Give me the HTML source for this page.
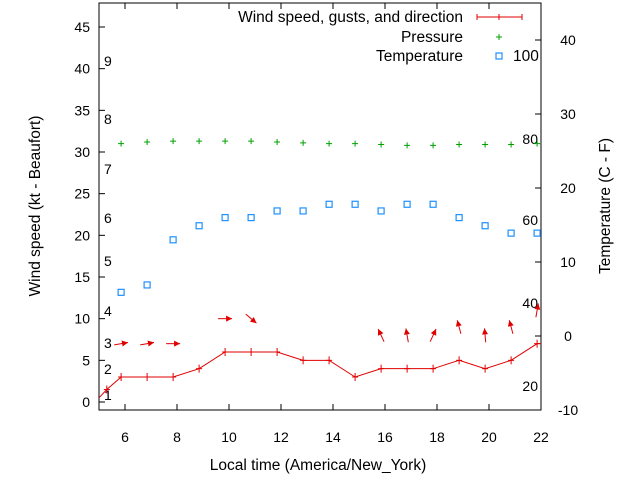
<!DOCTYPE html>
<html><head><meta charset="utf-8"><style>
body{margin:0;background:#fff}
svg{font-family:"Liberation Sans",sans-serif;font-size:14px}
.lg{font-size:15.5px}
</style></head><body>
<svg id="c" width="640" height="480" xmlns="http://www.w3.org/2000/svg"></svg>
<script>
const hours=[5.0,5.3,5.85,6.85,7.85,8.85,9.85,10.85,11.85,12.85,13.85,14.85,15.85,16.85,17.85,18.85,19.85,20.85,21.85,22];
const windSpeed=[0.5,1.5,3,3,3,4,6,6,6,5,5,3,4,4,4,5,4,5,7,7];
const windTicks=[false,true,true,true,true,true,true,true,true,true,true,true,true,true,true,true,true,true,true,false];
const pHours=[5.85,6.85,7.85,8.85,9.85,10.85,11.85,12.85,13.85,14.85,15.85,16.85,17.85,18.85,19.85,20.85,21.85];
const pressure=[31.0,31.2,31.3,31.3,31.3,31.3,31.2,31.1,31.0,31.0,30.9,30.8,30.8,30.9,30.9,30.9,31.0];
const temperature=[5.9,6.9,13.0,14.9,16.0,16.0,16.9,16.9,17.8,17.8,16.9,17.8,17.8,16.0,14.9,13.9,13.9];
const arrowHours=[5.85,6.85,7.85,9.85,10.85,15.85,16.85,17.85,18.85,19.85,20.85,21.85];
const arrowSpeed=[7,7,7,10,10,8,8,8,9,8,9,11];
const arrowDir=[260,260,270,270,310,155,170,205,165,175,165,190];
const xTicks=[6,8,10,12,14,16,18,20,22];
const yTicks=[0,5,10,15,20,25,30,35,40,45];
const y2Ticks=[-10,0,10,20,30,40];
const beaufort=[[1,395],[2,369],[3,343],[4,311],[5,261],[6,218],[7,169],[8,119],[9,61]];
const fahr=[[20,386],[40,303],[60,220],[80,139]];
const L=99,R=541,T=3,B=410;
const X=h=>L+(h-5)*26;
const Y=v=>402-v*375/45;
const Y2=v=>336-v*7.4;
const svg=document.getElementById('c');
const NS='http://www.w3.org/2000/svg';
function mk(tag,attrs,parent){const e=document.createElementNS(NS,tag);for(const k in attrs)e.setAttribute(k,attrs[k]);(parent||svg).appendChild(e);return e;}
function txt(s,x,y,anchor,name,rot,cls){const t=mk('text',{x:x,y:y,'text-anchor':anchor||'middle'});if(rot)t.setAttribute('transform',`rotate(-90 ${x} ${y})`);if(cls)t.setAttribute('class',cls);t.textContent=s;


return t;}
const defs=mk('defs',{});const cp=mk('clipPath',{id:'pc'},defs);mk('rect',{x:L,y:T,width:R-L,height:B-T},cp);
const box=mk('rect',{x:L,y:T,width:R-L,height:B-T,fill:'none',stroke:'#000','stroke-width':1});


xTicks.forEach(v=>{const x=X(v);mk('line',{x1:x,y1:B,x2:x,y2:B-6,stroke:'#000'});mk('line',{x1:x,y1:T,x2:x,y2:T+6,stroke:'#000'});txt(String(v),x,442,'middle','x-tick-label');});
yTicks.forEach(v=>{const y=Y(v);mk('line',{x1:L,y1:y,x2:L+6,y2:y,stroke:'#000'});txt(String(v),90,y+5,'end','y-tick-label');});
y2Ticks.forEach(v=>{const y=Y2(v);mk('line',{x1:R,y1:y,x2:R-6,y2:y,stroke:'#000'});txt(String(v),568,y+5,'middle','y2-tick-label');});
beaufort.forEach(b=>txt(String(b[0]),104,b[1]+5,'start','beaufort-label'));
fahr.forEach(f=>txt(String(f[0]),538,f[1]+5,'end','fahrenheit-label'));
txt('Wind speed (kt - Beaufort)',40,206,'middle','y-axis-title',true,'lg');
txt('Temperature (C - F)',610,206,'middle','y2-axis-title',true,'lg');
txt('Local time (America/New_York)',318,470,'middle','x-axis-title',false,'lg');
const g=mk('g',{'clip-path':'url(#pc)'});
const wl=mk('polyline',{points:hours.map((h,i)=>X(h)+','+Y(windSpeed[i])).join(' '),fill:'none',stroke:'#e00000','stroke-width':1},g);


hours.forEach((h,i)=>{if(!windTicks[i])return;const x=X(h),y=Y(windSpeed[i]);mk('line',{x1:x,y1:y-4,x2:x,y2:y+4,stroke:'#e00000'},g);mk('line',{x1:x-3,y1:y,x2:x+3,y2:y,stroke:'#e00000'},g);});
pHours.forEach((h,i)=>{const x=X(h),y=Y(pressure[i]);const p=mk('path',{d:`M${x-3},${y}h6M${x},${y-3}v6`,stroke:'#00a000','stroke-width':1},g);

});
pHours.forEach((h,i)=>{const x=X(h),y=Y2(temperature[i]);const r=mk('rect',{x:x-3,y:y-3,width:6,height:6,fill:'none',stroke:'#1e90ff','stroke-width':1.2},g);

});
arrowHours.forEach((h,i)=>{const cx=X(h),cy=Y(arrowSpeed[i]);const a=(arrowDir[i]+180)*Math.PI/180;const dx=Math.sin(a)*7,dy=-Math.cos(a)*7;
const x1=cx-dx,y1=cy-dy,x2=cx+dx,y2=cy+dy;const ag=mk('g',{},g);


mk('line',{x1:x1,y1:y1,x2:x2,y2:y2,stroke:'#e00000'},ag);
const ux=dx/7,uy=dy/7;const bx=x2-ux*6,by=y2-uy*6;
mk('polygon',{points:`${x2},${y2} ${bx-uy*3},${by+ux*3} ${bx+uy*3},${by-ux*3}`,fill:'#e00000'},ag);});
txt('Wind speed, gusts, and direction',463,22,'end','legend-wind-label',false,'lg');
mk('path',{d:'M477,17h45M477,14v6M522,14v6M499,14v6',stroke:'#e00000'});
txt('Pressure',463,42,'end','legend-pressure-label',false,'lg');
mk('path',{d:'M496,37h6M499,34v6',stroke:'#00a000'});
txt('Temperature',463,61,'end','legend-temperature-label',false,'lg');
mk('rect',{x:496,y:53,width:6,height:6,fill:'none',stroke:'#1e90ff','stroke-width':1.2});
txt('100',513,61,'start','fahrenheit-label',false,'lg');
</script>
</body></html>
